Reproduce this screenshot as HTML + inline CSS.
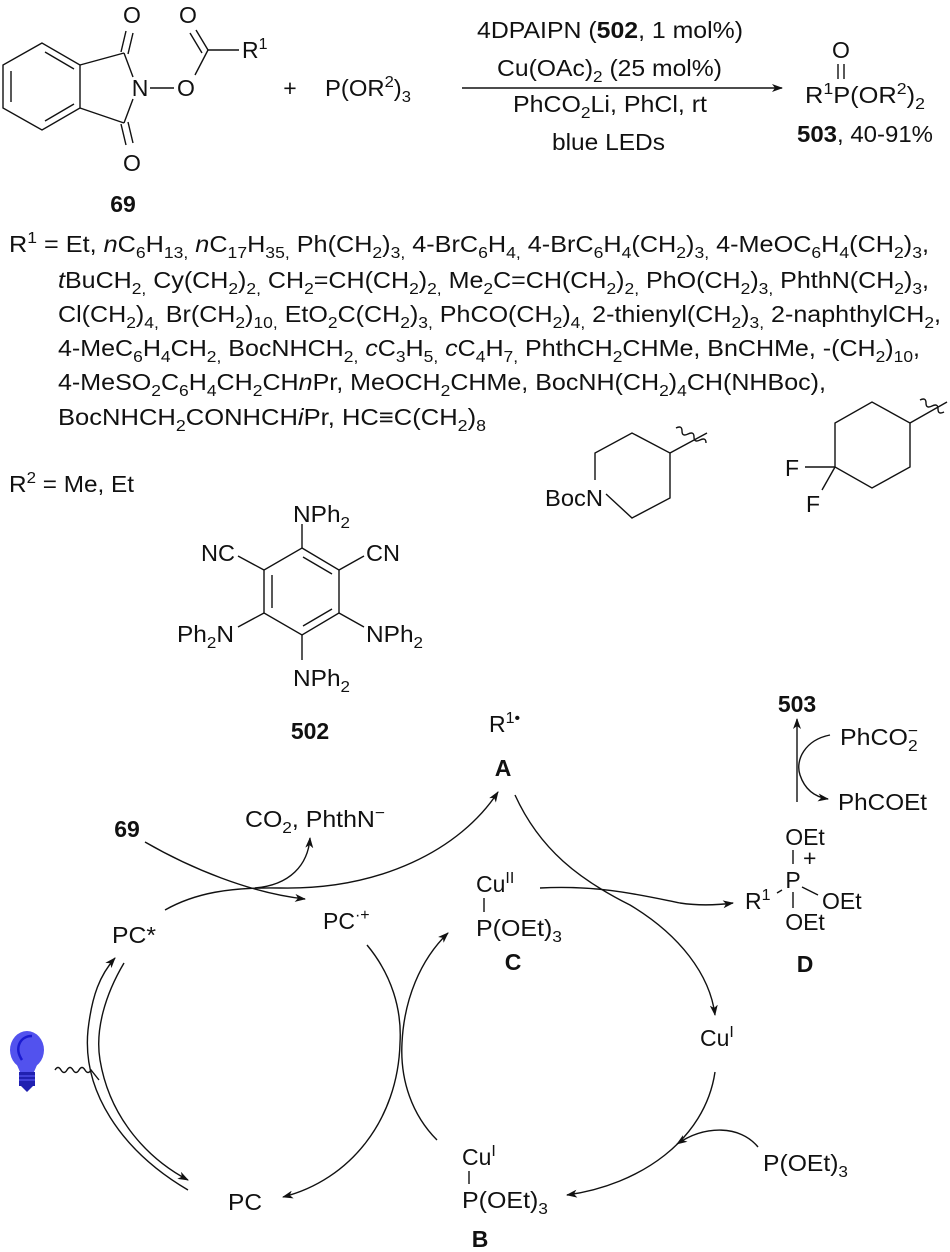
<!DOCTYPE html>
<html><head><meta charset="utf-8"><style>
html,body{margin:0;padding:0;background:#fff}
svg{display:block}
text{font-family:"Liberation Sans",Arial,sans-serif;font-size:23px;fill:#111}
.b{font-weight:bold}
.s{baseline-shift:-6px;font-size:16px}
.p{baseline-shift:9px;font-size:16px}
.l{stroke:#111;stroke-width:1.4;fill:none}
</style></head><body>
<svg width="950" height="1252" viewBox="0 0 950 1252" xmlns="http://www.w3.org/2000/svg">
<defs>
<marker id="ah" markerWidth="12" markerHeight="8" refX="10" refY="4" orient="auto" markerUnits="userSpaceOnUse"><path d="M0,0 L11,4 L0,8 L3,4Z" fill="#111"/></marker>
</defs>

<!-- phthalimide 69 -->
<g class="l">
<polygon points="42,43 3,65 3,108 42,130 80,108 80,65"/>
<line x1="11" y1="71" x2="11" y2="102"/>
<line x1="45" y1="52" x2="74" y2="69"/>
<line x1="45" y1="121" x2="74" y2="104"/>
<line x1="80" y1="65" x2="124" y2="53"/>
<line x1="80" y1="108" x2="124" y2="123"/>
<line x1="124" y1="53" x2="133" y2="77"/>
<line x1="124" y1="123" x2="133" y2="99"/>
<line x1="121" y1="52" x2="126" y2="31"/><line x1="128" y1="54" x2="133" y2="33"/>
<line x1="121" y1="124" x2="126" y2="145"/><line x1="128" y1="122" x2="133" y2="143"/>
<line x1="150" y1="88" x2="174" y2="88"/>
<line x1="195" y1="75" x2="208" y2="50"/>
<line x1="208" y1="50" x2="196" y2="30"/><line x1="202" y1="53" x2="190" y2="33"/>
<line x1="208" y1="50" x2="239" y2="50"/>
</g>
<text x="132" y="23" text-anchor="middle">O</text>
<text x="132" y="171" text-anchor="middle">O</text>
<text x="140" y="96" text-anchor="middle">N</text>
<text x="186" y="96" text-anchor="middle">O</text>
<text x="188" y="23" text-anchor="middle">O</text>
<text x="242" y="58">R<tspan class="p">1</tspan></text>
<text x="290" y="96" text-anchor="middle">+</text>
<text x="325" y="96" textLength="86" lengthAdjust="spacingAndGlyphs">P(OR<tspan class="p">2</tspan>)<tspan class="s">3</tspan></text>
<text x="123" y="212" text-anchor="middle" class="b">69</text>

<!-- reaction arrow -->
<line class="l" x1="462" y1="88" x2="782" y2="88" marker-end="url(#ah)"/>
<text x="477" y="38" textLength="266" lengthAdjust="spacingAndGlyphs">4DPAIPN (<tspan class="b">502</tspan>, 1 mol%)</text>
<text x="497" y="76" textLength="225" lengthAdjust="spacingAndGlyphs">Cu(OAc)<tspan class="s">2</tspan> (25 mol%)</text>
<text x="513" y="112" textLength="194" lengthAdjust="spacingAndGlyphs">PhCO<tspan class="s">2</tspan>Li, PhCl, rt</text>
<text x="552" y="150" textLength="113" lengthAdjust="spacingAndGlyphs">blue LEDs</text>
<text x="841" y="58" text-anchor="middle">O</text>
<line class="l" x1="838" y1="64" x2="838" y2="79"/><line class="l" x1="844" y1="64" x2="844" y2="79"/>
<text x="805" y="103" textLength="120" lengthAdjust="spacingAndGlyphs">R<tspan class="p">1</tspan>P(OR<tspan class="p">2</tspan>)<tspan class="s">2</tspan></text>
<text x="797" y="142" textLength="136" lengthAdjust="spacingAndGlyphs"><tspan class="b">503</tspan>, 40-91%</text>

<!-- R1 list -->
<text x="9" y="252" textLength="920" lengthAdjust="spacingAndGlyphs">R<tspan class="p">1</tspan> = Et, <tspan font-style="italic">n</tspan>C<tspan class="s">6</tspan>H<tspan class="s">13,</tspan> <tspan font-style="italic">n</tspan>C<tspan class="s">17</tspan>H<tspan class="s">35,</tspan> Ph(CH<tspan class="s">2</tspan>)<tspan class="s">3,</tspan> 4-BrC<tspan class="s">6</tspan>H<tspan class="s">4,</tspan> 4-BrC<tspan class="s">6</tspan>H<tspan class="s">4</tspan>(CH<tspan class="s">2</tspan>)<tspan class="s">3,</tspan> 4-MeOC<tspan class="s">6</tspan>H<tspan class="s">4</tspan>(CH<tspan class="s">2</tspan>)<tspan class="s">3</tspan>,</text>
<text x="58" y="288" textLength="871" lengthAdjust="spacingAndGlyphs"><tspan font-style="italic">t</tspan>BuCH<tspan class="s">2,</tspan> Cy(CH<tspan class="s">2</tspan>)<tspan class="s">2,</tspan> CH<tspan class="s">2</tspan>=CH(CH<tspan class="s">2</tspan>)<tspan class="s">2,</tspan> Me<tspan class="s">2</tspan>C=CH(CH<tspan class="s">2</tspan>)<tspan class="s">2,</tspan> PhO(CH<tspan class="s">2</tspan>)<tspan class="s">3,</tspan> PhthN(CH<tspan class="s">2</tspan>)<tspan class="s">3</tspan>,</text>
<text x="58" y="322" textLength="883" lengthAdjust="spacingAndGlyphs">Cl(CH<tspan class="s">2</tspan>)<tspan class="s">4,</tspan> Br(CH<tspan class="s">2</tspan>)<tspan class="s">10,</tspan> EtO<tspan class="s">2</tspan>C(CH<tspan class="s">2</tspan>)<tspan class="s">3,</tspan> PhCO(CH<tspan class="s">2</tspan>)<tspan class="s">4,</tspan> 2-thienyl(CH<tspan class="s">2</tspan>)<tspan class="s">3,</tspan> 2-naphthylCH<tspan class="s">2</tspan>,</text>
<text x="58" y="356" textLength="862" lengthAdjust="spacingAndGlyphs">4-MeC<tspan class="s">6</tspan>H<tspan class="s">4</tspan>CH<tspan class="s">2,</tspan> BocNHCH<tspan class="s">2,</tspan> <tspan font-style="italic">c</tspan>C<tspan class="s">3</tspan>H<tspan class="s">5,</tspan> <tspan font-style="italic">c</tspan>C<tspan class="s">4</tspan>H<tspan class="s">7,</tspan> PhthCH<tspan class="s">2</tspan>CHMe, BnCHMe, -(CH<tspan class="s">2</tspan>)<tspan class="s">10</tspan>,</text>
<text x="58" y="390" textLength="768" lengthAdjust="spacingAndGlyphs">4-MeSO<tspan class="s">2</tspan>C<tspan class="s">6</tspan>H<tspan class="s">4</tspan>CH<tspan class="s">2</tspan>CH<tspan font-style="italic">n</tspan>Pr, MeOCH<tspan class="s">2</tspan>CHMe, BocNH(CH<tspan class="s">2</tspan>)<tspan class="s">4</tspan>CH(NHBoc),</text>
<text x="58" y="425" textLength="428" lengthAdjust="spacingAndGlyphs">BocNHCH<tspan class="s">2</tspan>CONHCH<tspan font-style="italic">i</tspan>Pr, HC≡C(CH<tspan class="s">2</tspan>)<tspan class="s">8</tspan></text>
<text x="9" y="492" textLength="125" lengthAdjust="spacingAndGlyphs">R<tspan class="p">2</tspan> = Me, Et</text>

<!-- piperidine -->
<g class="l">
<polyline points="606,494 632,518 670,498 670,453 632,433 595,453 595,480"/>
<line x1="670" y1="453" x2="707" y2="433"/>
<path d="M676,428 q6,-3 6,3 q0,6 6,3 q6,-3 6,3 q0,6 6,3 q6,-3 6,3"/>
</g>
<text x="545" y="506" textLength="58" lengthAdjust="spacingAndGlyphs">BocN</text>
<!-- difluorocyclohexane -->
<g class="l">
<polygon points="835,423 835,467 872,488 910,467 910,423 872,402"/>
<line x1="910" y1="423" x2="947" y2="402"/>
<path d="M920,400 q6,-3 6,3 q0,6 6,3 q6,-3 6,3 q0,6 6,3"/>
<line x1="805" y1="467" x2="835" y2="467"/>
<line x1="835" y1="467" x2="822" y2="490"/>
</g>
<text x="792" y="476" text-anchor="middle">F</text>
<text x="813" y="512" text-anchor="middle">F</text>

<!-- 502 -->
<g class="l">
<polygon points="302,548 339,570 339,613 302,635 264,613 264,570"/>
<line x1="303" y1="557" x2="332" y2="574"/>
<line x1="272" y1="575" x2="272" y2="608"/>
<line x1="303" y1="626" x2="332" y2="609"/>
<line x1="302" y1="548" x2="302" y2="524"/>
<line x1="264" y1="570" x2="238" y2="556"/>
<line x1="339" y1="570" x2="364" y2="556"/>
<line x1="264" y1="613" x2="238" y2="627"/>
<line x1="339" y1="613" x2="364" y2="627"/>
<line x1="302" y1="635" x2="302" y2="660"/>
</g>
<text x="293" y="522" textLength="57" lengthAdjust="spacingAndGlyphs">NPh<tspan class="s">2</tspan></text>
<text x="201" y="561" textLength="34" lengthAdjust="spacingAndGlyphs">NC</text>
<text x="366" y="561" textLength="34" lengthAdjust="spacingAndGlyphs">CN</text>
<text x="177" y="642" textLength="57" lengthAdjust="spacingAndGlyphs">Ph<tspan class="s">2</tspan>N</text>
<text x="366" y="642" textLength="57" lengthAdjust="spacingAndGlyphs">NPh<tspan class="s">2</tspan></text>
<text x="293" y="686" textLength="57" lengthAdjust="spacingAndGlyphs">NPh<tspan class="s">2</tspan></text>
<text x="310" y="739" text-anchor="middle" class="b">502</text>

<!-- cycle labels -->
<text x="489" y="732">R<tspan class="p">1•</tspan></text>
<text x="503" y="776" text-anchor="middle" class="b">A</text>
<text x="127" y="837" text-anchor="middle" class="b">69</text>
<text x="245" y="827" textLength="140" lengthAdjust="spacingAndGlyphs">CO<tspan class="s">2</tspan>, PhthN<tspan class="p">−</tspan></text>
<text x="112" y="943" textLength="44" lengthAdjust="spacingAndGlyphs">PC*</text>
<text x="323" y="929">PC<tspan class="p">·+</tspan></text>
<text x="476" y="892">Cu<tspan class="p">II</tspan></text>
<line class="l" x1="484" y1="898" x2="484" y2="912"/>
<text x="476" y="936" textLength="86" lengthAdjust="spacingAndGlyphs">P(OEt)<tspan class="s">3</tspan></text>
<text x="513" y="970" text-anchor="middle" class="b">C</text>
<text x="228" y="1210" textLength="34" lengthAdjust="spacingAndGlyphs">PC</text>
<text x="462" y="1165">Cu<tspan class="p">I</tspan></text>
<line class="l" x1="469" y1="1171" x2="469" y2="1184"/>
<text x="462" y="1208" textLength="86" lengthAdjust="spacingAndGlyphs">P(OEt)<tspan class="s">3</tspan></text>
<text x="480" y="1247" text-anchor="middle" class="b">B</text>
<text x="700" y="1046">Cu<tspan class="p">I</tspan></text>
<text x="763" y="1171" textLength="85" lengthAdjust="spacingAndGlyphs">P(OEt)<tspan class="s">3</tspan></text>
<text x="797" y="712" text-anchor="middle" class="b">503</text>
<text x="840" y="745" textLength="78" lengthAdjust="spacingAndGlyphs">PhCO<tspan class="s">2</tspan><tspan dx="-9" class="p">−</tspan></text>
<text x="838" y="810" textLength="89" lengthAdjust="spacingAndGlyphs">PhCOEt</text>
<!-- D -->
<text x="805" y="845" text-anchor="middle">OEt</text>
<line class="l" x1="793" y1="850" x2="793" y2="864"/>
<text x="803" y="866" font-size="15">+</text>
<text x="793" y="888" text-anchor="middle">P</text>
<text x="745" y="909">R<tspan class="p">1</tspan></text>
<line class="l" x1="777" y1="893" x2="782" y2="890"/>
<line class="l" x1="802" y1="887" x2="818" y2="895"/>
<text x="822" y="909">OEt</text>
<line class="l" x1="793" y1="892" x2="793" y2="908"/>
<text x="805" y="930" text-anchor="middle">OEt</text>
<text x="805" y="972" text-anchor="middle" class="b">D</text>

<!-- cycle arrows -->
<g class="l">
<path d="M145,842 C190,868 250,893 305,899" marker-end="url(#ah)"/>
<path d="M165,910 C195,893 230,887 280,888 C380,890 460,850 498,792" marker-end="url(#ah)"/>
<path d="M255,888 C290,885 308,865 310,838" marker-end="url(#ah)"/>
<path d="M188,1190 C120,1150 82,1090 88,1030 C92,995 100,975 115,958" marker-end="url(#ah)"/>
<path d="M124,963 C105,995 95,1030 100,1060 C110,1120 150,1160 188,1180" marker-end="url(#ah)"/>
<path d="M367,945 C392,975 402,1010 400,1043 C398,1120 350,1180 283,1197" marker-end="url(#ah)"/>
<path d="M437,1140 C412,1115 400,1080 402,1043 C404,1000 420,960 448,933" marker-end="url(#ah)"/>
<path d="M515,795 C540,850 580,880 630,905 C680,935 710,975 715,1015" marker-end="url(#ah)"/>
<path d="M540,888 C600,885 640,895 680,903 C700,906 718,905 733,903" marker-end="url(#ah)"/>
<path d="M715,1072 C705,1140 640,1185 567,1195" marker-end="url(#ah)"/>
<path d="M758,1147 C740,1125 705,1125 677,1144" marker-end="url(#ah)"/>
<path d="M797,802 L797,719" marker-end="url(#ah)"/>
<path d="M830,735 C805,740 795,760 800,775 C805,790 815,797 828,799" marker-end="url(#ah)"/>
<path d="M55,1070 q3,-5 6,0 q3,5 6,0 q3,-5 6,0 q3,5 6,0 q3,-5 6,0 q3,5 6,0 l8,10"/>
</g>
<!-- bulb -->
<g>
<ellipse cx="27" cy="1050" rx="17" ry="19" fill="#5252ee"/>
<path d="M14,1058 L20,1072 L34,1072 L40,1058Z" fill="#5252ee"/>
<path d="M22,1060 C14,1048 20,1036 32,1036" stroke="#1a1ad0" stroke-width="2.5" fill="none"/>
<rect x="19" y="1072" width="16" height="14" fill="#2020b0"/>
<line x1="19" y1="1076" x2="35" y2="1076" stroke="#6060ff" stroke-width="1"/>
<line x1="19" y1="1080" x2="35" y2="1080" stroke="#6060ff" stroke-width="1"/>
<path d="M21,1086 L27,1092 L33,1086Z" fill="#2020b0"/>
</g>
</svg>
</body></html>
